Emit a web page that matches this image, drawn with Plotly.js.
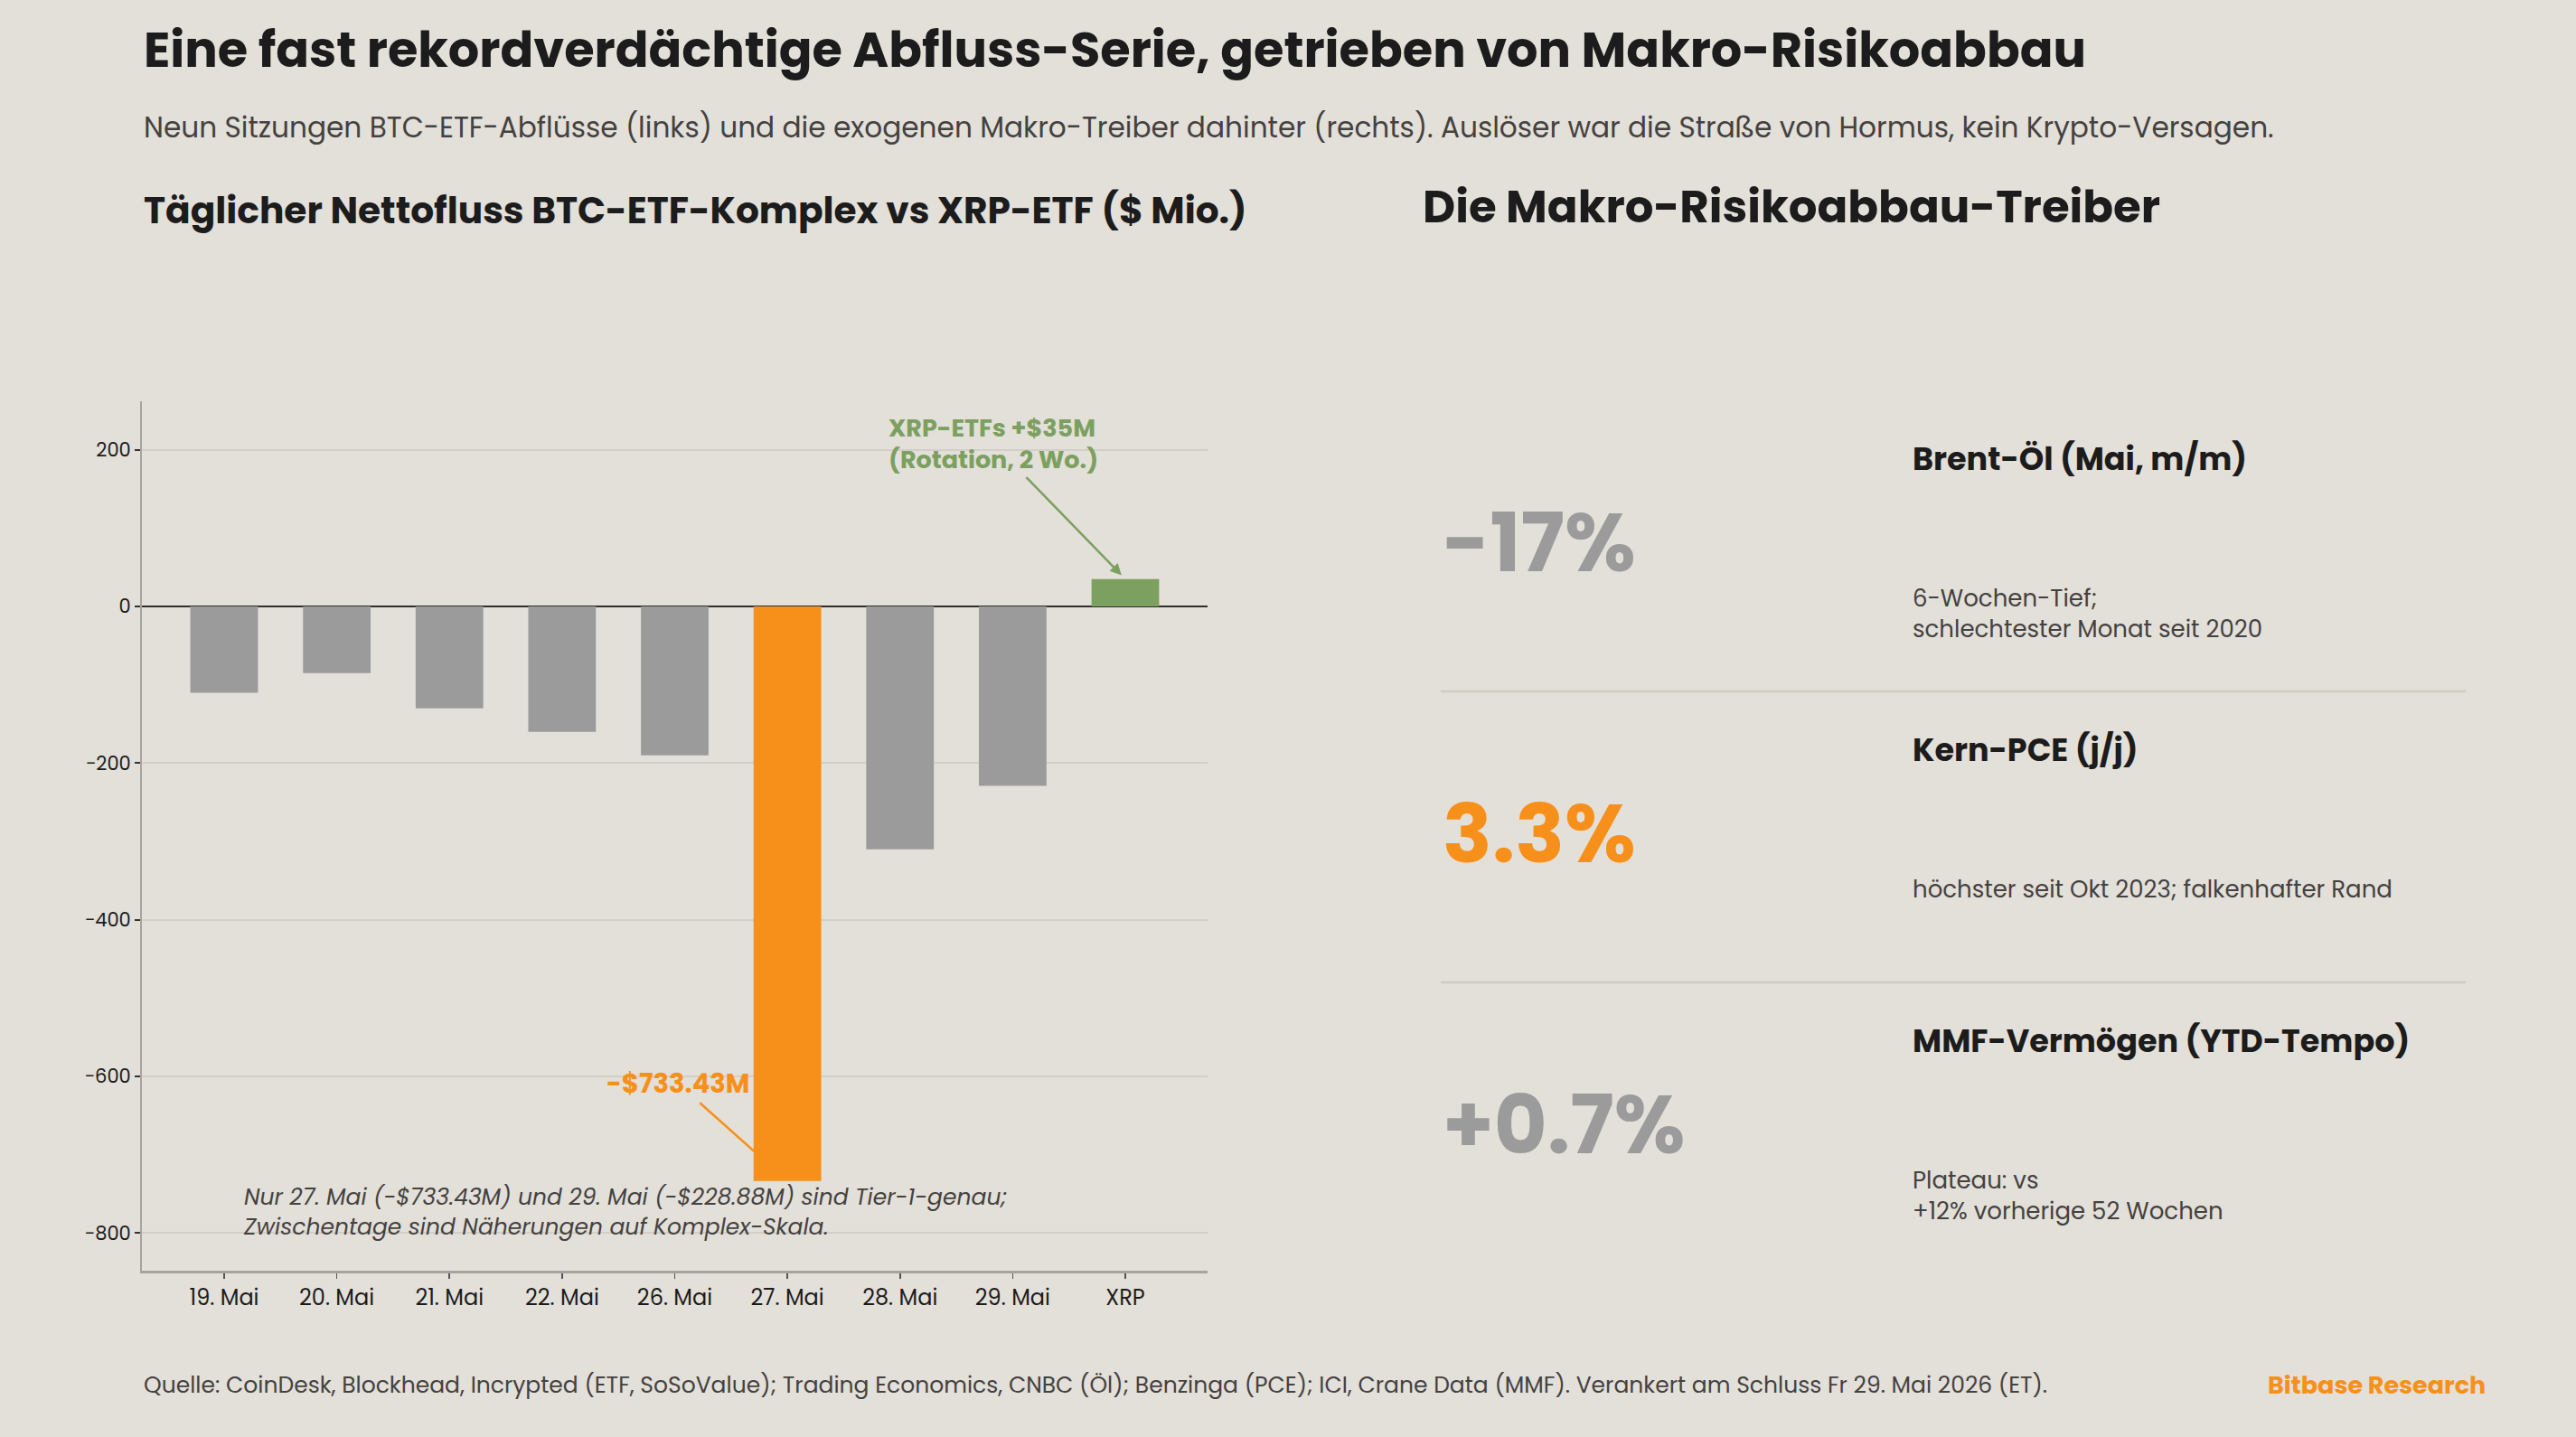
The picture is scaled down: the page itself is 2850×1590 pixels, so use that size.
<!DOCTYPE html>
<html>
<head>
<meta charset="utf-8">
<script src="https://cdn.plot.ly/plotly-3.0.1.min.js"></script>
<style>
  html, body { margin: 0; padding: 0; background: #E3DFD9; }
  #chart { width: 2850px; height: 1590px; }
</style>
</head>
<body>
<div id="chart"></div>
<script>
// Daily net flows, BTC ETF complex plus the XRP ETF bucket ($ millions)
const sessions = ['19. Mai', '20. Mai', '21. Mai', '22. Mai', '26. Mai', '27. Mai', '28. Mai', '29. Mai', 'XRP'];
const netFlows = [-110, -85, -130, -160, -190, -733.43, -310, -228.88, 35];
const yTicks = [-800, -600, -400, -200, 0, 200];

// Macro drivers panel
const driverValues = ['-17%', '3.3%', '+0.7%'];
const driverLabels = ['Brent-Öl (Mai, m/m)', 'Kern-PCE (j/j)', 'MMF-Vermögen (YTD-Tempo)'];
const driverNotes = [
  '6-Wochen-Tief;<br>schlechtester Monat seit 2020',
  'höchster seit Okt 2023; falkenhafter Rand',
  'Plateau: vs<br>+12% vorherige 52 Wochen'
];
const driverHighlight = [false, true, false];

const W = 2850, H = 1590;
const FONT = 'Poppins, Inter, "Open Sans", sans-serif';
const BG = '#E3DFD9';
const ORANGE = '#F7901A';
const GREY = '#9B9B9B';
const GREEN = '#7BA05F';
const INK = '#1C1C1C';
const SOFT = '#444240';

const px = x => x / W;
const py = y => 1 - y / H;

const peakIdx = netFlows.indexOf(Math.min(...netFlows));
const xrpIdx = sessions.indexOf('XRP');
const barColors = netFlows.map((v, i) => i === peakIdx ? ORANGE : (v > 0 ? GREEN : GREY));

const fmtMoney = v => (v < 0 ? '-' : '+') + '$' + Math.abs(v) + 'M';

const trace = {
  type: 'bar',
  x: sessions,
  y: netFlows,
  marker: { color: barColors, line: { width: 0 } },
  width: 0.6,
  hoverinfo: 'skip'
};

function txt(text, x, y, size, color, opts = {}) {
  return Object.assign({
    xref: 'paper', yref: 'paper', x: px(x), y: py(y),
    xanchor: 'left', yanchor: 'middle', showarrow: false,
    text: text, align: 'left',
    font: { family: FONT, size: size, color: color }
  }, opts);
}

const annotations = [
  txt('<b>Eine fast rekordverdächtige Abfluss-Serie, getrieben von Makro-Risikoabbau</b>', 157, 55, 54.2, INK),
  txt('Neun Sitzungen BTC-ETF-Abflüsse (links) und die exogenen Makro-Treiber dahinter (rechts). Auslöser war die Straße von Hormus, kein Krypto-Versagen.', 157, 141, 31.2, SOFT),
  txt('<b>Täglicher Nettofluss BTC-ETF-Komplex vs XRP-ETF ($ Mio.)</b>', 157, 233, 40.7, INK),
  txt('<b>Die Makro-Risikoabbau-Treiber</b>', 1572, 229, 49.8, INK),
  // callouts on the bars
  {
    xref: 'x', yref: 'y', x: sessions[xrpIdx], y: netFlows[xrpIdx],
    text: '<b>XRP-ETFs ' + fmtMoney(netFlows[xrpIdx]) + '</b><br><b>(Rotation, 2 Wo.)</b>',
    showarrow: true, arrowhead: 2, arrowsize: 1, arrowwidth: 2.5, arrowcolor: GREEN,
    ax: -146, ay: -150, standoff: 6, align: 'left',
    font: { family: FONT, size: 27, color: GREEN }
  },
  {
    xref: 'x', yref: 'y', x: sessions[peakIdx], y: netFlows[peakIdx],
    text: '<b>' + fmtMoney(netFlows[peakIdx]) + '</b>',
    showarrow: true, arrowhead: 2, arrowsize: 1, arrowwidth: 2.5, arrowcolor: ORANGE,
    ax: -121, ay: -108, standoff: 0,
    font: { family: FONT, size: 29, color: ORANGE }
  },
  txt('<i>Nur 27. Mai (' + fmtMoney(netFlows[5]) + ') und 29. Mai (' + fmtMoney(netFlows[7]) + ') sind Tier-1-genau;<br>Zwischentage sind Näherungen auf Komplex-Skala.</i>', 267, 1341, 25, SOFT),
  // footer
  txt('Quelle: CoinDesk, Blockhead, Incrypted (ETF, SoSoValue); Trading Economics, CNBC (Öl); Benzinga (PCE); ICI, Crane Data (MMF). Verankert am Schluss Fr 29. Mai 2026 (ET).', 157, 1532, 25, SOFT),
  txt('<b>Bitbase Research</b>', 2752, 1532, 27, ORANGE, { xanchor: 'right' })
];

// driver rows
const rowTop = [507, 829, 1151];
driverValues.forEach((v, i) => {
  const y0 = rowTop[i];
  annotations.push(txt('<b>' + v + '</b>', 1594, y0 + 93, 90.5, driverHighlight[i] ? ORANGE : GREY));
  annotations.push(txt('<b>' + driverLabels[i] + '</b>', 2114, y0, 35, INK));
  const twoLines = driverNotes[i].indexOf('<br>') >= 0;
  annotations.push(txt(driverNotes[i], 2114, twoLines ? y0 + 172 : y0 + 155, 26, SOFT));
});

const shapes = [765, 1087].map(y => ({
  type: 'line', xref: 'paper', yref: 'paper',
  x0: px(1594), x1: px(2728), y0: py(y), y1: py(y),
  line: { color: '#D1CCC2', width: 2.5 }
}));

const layout = {
  width: W, height: H,
  paper_bgcolor: BG, plot_bgcolor: BG,
  margin: { l: 0, r: 0, t: 0, b: 0 },
  showlegend: false,
  font: { family: FONT, color: INK },
  xaxis: {
    domain: [px(157), px(1336)],
    type: 'category',
    range: [-0.73, sessions.length - 1 + 0.73],
    showline: true, linecolor: '#A7A4A0', linewidth: 3,
    ticks: 'outside', ticklen: 6, tickcolor: '#555', tickwidth: 1.5,
    tickfont: { family: FONT, size: 24, color: INK },
    showgrid: false, zeroline: false, fixedrange: true
  },
  yaxis: {
    domain: [py(1406), py(444)],
    range: [-848, 262],
    tickvals: yTicks,
    showline: true, linecolor: '#A7A4A0', linewidth: 2,
    ticks: 'outside', ticklen: 6, tickcolor: '#333', tickwidth: 2,
    tickfont: { family: FONT, size: 21, color: INK },
    gridcolor: '#D3CEC7', gridwidth: 2,
    zeroline: true, zerolinecolor: '#2E2E2E', zerolinewidth: 2.5,
    fixedrange: true
  },
  annotations: annotations,
  shapes: shapes
};

Plotly.newPlot('chart', [trace], layout, { displayModeBar: false, staticPlot: true });
</script>
</body>
</html>
